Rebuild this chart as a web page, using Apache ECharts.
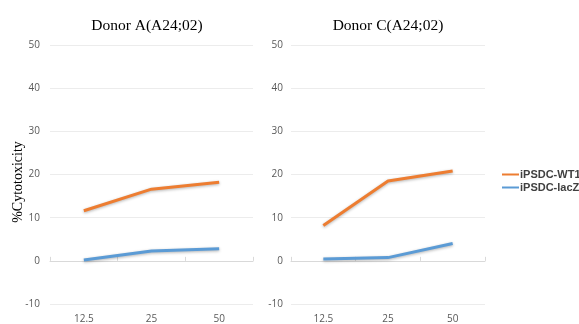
<!DOCTYPE html>
<html><head><meta charset="utf-8">
<script src="https://cdn.jsdelivr.net/npm/echarts@6/dist/echarts.min.js"></script>
<style>html,body{margin:0;padding:0;background:#fff}#c{width:579px;height:324px}</style>
</head><body><div id="c"></div>
<script>
const categories = ['12.5', '25', '50'];
const titles = ['Donor A(A24;02)', 'Donor C(A24;02)'];
const seriesNames = ['iPSDC-WT1', 'iPSDC-lacZ'];
const donorA_WT1 = [11.6, 16.6, 18.2];
const donorA_lacZ = [0.2, 2.3, 2.8];
const donorC_WT1 = [8.2, 18.5, 20.8];
const donorC_lacZ = [0.4, 0.75, 4.0];
const yTicks = { min: -10, max: 50, interval: 10 };
const yName = '%Cytotoxicity';

const colors = ['#ED7D31', '#5B9BD5'];
const chart = echarts.init(document.getElementById('c'));
const grids = [
  { left: 50, right: 326, top: 45, bottom: 17 },
  { left: 291, right: 94, top: 45, bottom: 17 }
];
const xAxes = [], yAxes = [];
grids.forEach((g, i) => {
  xAxes.push({
    type: 'category', data: categories, gridIndex: i, position: 'bottom',
    axisLine: { show: false, onZero: false }, axisTick: { show: false },
    axisLabel: { color: '#595959', fontSize: 10, margin: 10, fontFamily: 'Open Sans' }
  });
  yAxes.push({
    type: 'value', gridIndex: i, min: yTicks.min, max: yTicks.max, interval: yTicks.interval,
    axisLine: { show: false }, axisTick: { show: false },
    axisLabel: { color: '#595959', fontSize: 10, margin: i === 0 ? 10 : 8, fontFamily: 'Open Sans' },
    splitLine: { lineStyle: { color: '#ececec', width: 1 } }
  });
});
grids.forEach((g, i) => {
  xAxes.push({
    type: 'category', data: categories, gridIndex: i,
    axisLine: { show: true, onZero: true, onZeroAxisIndex: i, lineStyle: { color: '#d9d9d9', width: 1 } },
    axisTick: { show: true, length: 4, lineStyle: { color: '#d9d9d9' } },
    axisLabel: { show: false }, splitLine: { show: false }
  });
});
const mk = (name, data, xi, yi, c) => ({
  type: 'line', name, data, xAxisIndex: xi, yAxisIndex: yi,
  symbol: 'none', smooth: false, color: c,
  lineStyle: { width: 3, color: c, shadowColor: 'rgba(0,0,0,0.3)', shadowBlur: 3, shadowOffsetY: 1 },
  emphasis: { disabled: true }
});
chart.setOption({
  animation: false,
  title: titles.map((t, i) => ({
    text: t, left: i === 0 ? 142 : 383, top: 13, textAlign: 'center',
    textStyle: { fontFamily: 'Liberation Serif', fontSize: 15.5, fontWeight: 'normal', color: '#000' }
  })),
  graphic: [{
    type: 'text', x: 18, y: 182, rotation: Math.PI / 2,
    style: { text: yName, fontFamily: 'Liberation Serif', fontSize: 14, fill: '#000', align: 'center', verticalAlign: 'middle' }
  }],
  legend: {
    orient: 'vertical', left: 497, top: 164, itemGap: 2,
    icon: 'rect', itemWidth: 17, itemHeight: 2,
    data: seriesNames,
    textStyle: { fontFamily: 'Liberation Sans', fontWeight: 'bold', fontSize: 11, color: '#404040', padding: [0, 0, 0, -4] }
  },
  grid: grids,
  xAxis: xAxes,
  yAxis: yAxes,
  series: [
    mk(seriesNames[0], donorA_WT1, 0, 0, colors[0]),
    mk(seriesNames[1], donorA_lacZ, 0, 0, colors[1]),
    mk(seriesNames[0], donorC_WT1, 1, 1, colors[0]),
    mk(seriesNames[1], donorC_lacZ, 1, 1, colors[1])
  ]
});
</script></body></html>
